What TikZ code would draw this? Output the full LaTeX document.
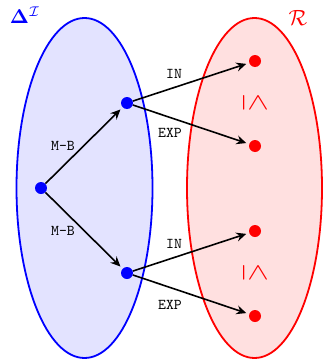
\documentclass[tikz,border=0pt]{standalone}
\usepackage{amsmath,amssymb,graphicx}
\usetikzlibrary{arrows.meta}
\begin{document}
\begin{tikzpicture}[x=1pt,y=-1pt,
  bdot/.style={circle,fill=blue,inner sep=0pt,minimum size=12pt},
  rdot/.style={circle,fill=red,inner sep=0pt,minimum size=12pt},
  arr/.style={-{Stealth[length=10pt,width=9pt,inset=3.5pt]},line width=1.6pt,black,shorten >=3pt},
  lbl/.style={inner sep=1pt}]
\newcommand{\lab}[1]{\scalebox{1.5}{\ttfamily #1}}
\newcommand{\rleq}{\rotatebox{-90}{\scalebox{2.4}[3.1]{$\leq$}}}
\useasboundingbox (0,0) rectangle (323,359);
\fill[blue!11] (84.5,188) ellipse [x radius=68, y radius=170];
\fill[red!12] (254.5,188) ellipse [x radius=67.5, y radius=170];
\draw[blue,line width=1.8pt] (84.5,188) ellipse [x radius=68, y radius=170];
\draw[red,line width=1.8pt] (254.5,188) ellipse [x radius=67.5, y radius=170];
\node[blue,inner sep=0pt] (dl) at (25,15) {\scalebox{2}{$\mathbf{\Delta}^{\mathcal{I}}$}};
\node[red,inner sep=0pt] (rl) at (298,18) {\scalebox{2.2}{$\mathcal{R}$}};
\node[bdot] (a) at (41,188) {};
\node[bdot] (b) at (127,103) {};
\node[bdot] (c) at (127,273) {};
\node[rdot] (r1) at (255,61) {};
\node[rdot] (r2) at (255,146) {};
\node[rdot] (r3) at (255,231) {};
\node[rdot] (r4) at (255,316) {};
\node[red,inner sep=0pt] (le1) at (255,103) {\rleq};
\node[red,inner sep=0pt] (le2) at (255,273) {\rleq};
\draw[arr] (a) -- (b);
\draw[arr] (a) -- (c);
\draw[arr] (b) -- (r1);
\draw[arr] (b) -- (r2);
\draw[arr] (c) -- (r3);
\draw[arr] (c) -- (r4);
\node[lbl] (m1) at (63,146) {\lab{M-B}};
\node[lbl] (m2) at (63,231) {\lab{M-B}};
\node[lbl] (i1) at (174,74) {\lab{IN}};
\node[lbl] (e1) at (170,133) {\lab{EXP}};
\node[lbl] (i2) at (174,244) {\lab{IN}};
\node[lbl] (e2) at (170,305) {\lab{EXP}};
\end{tikzpicture}
\end{document}
